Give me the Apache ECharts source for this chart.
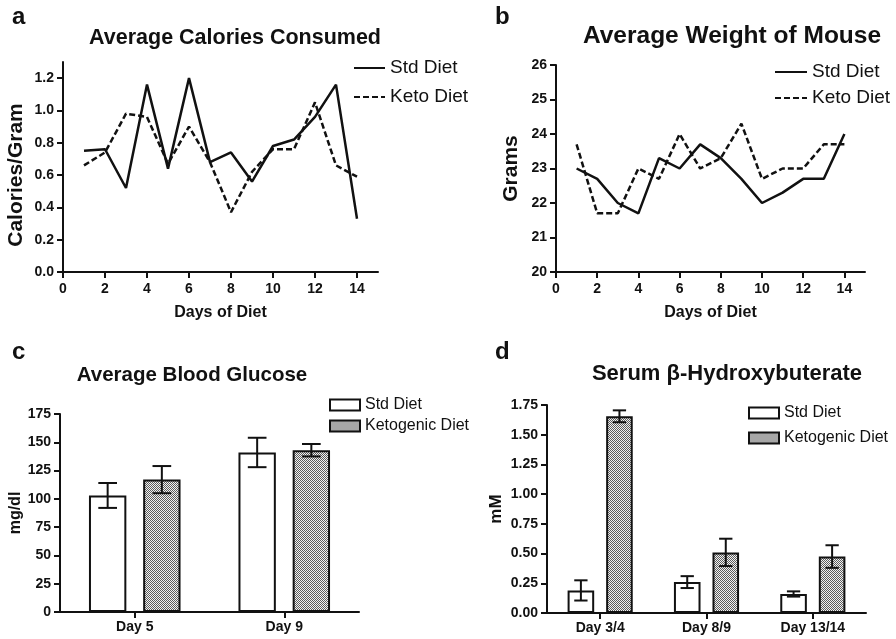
<!DOCTYPE html>
<html>
<head>
<meta charset="utf-8">
<script src="https://cdn.jsdelivr.net/npm/echarts@6/dist/echarts.min.js"></script>
<style>html,body{margin:0;padding:0;background:#fff}#c{width:896px;height:639px}</style>
</head>
<body>
<div id="c"></div>
<script>
// ---- data ----
const days = [1, 2, 3, 4, 5, 6, 7, 8, 9, 10, 11, 12, 13, 14];
const dayTicks = [0, 2, 4, 6, 8, 10, 12, 14];

const calStd  = [0.75, 0.76, 0.52, 1.16, 0.64, 1.20, 0.68, 0.74, 0.56, 0.78, 0.82, 0.96, 1.16, 0.33];
const calKeto = [0.66, 0.74, 0.98, 0.96, 0.67, 0.90, 0.68, 0.37, 0.62, 0.76, 0.76, 1.05, 0.66, 0.59];
const calTicks = [0, 0.2, 0.4, 0.6, 0.8, 1.0, 1.2];

const wtStd  = [23.0, 22.7, 22.0, 21.7, 23.3, 23.0, 23.7, 23.3, 22.7, 22.0, 22.3, 22.7, 22.7, 24.0];
const wtKeto = [23.7, 21.7, 21.7, 23.0, 22.7, 24.0, 23.0, 23.3, 24.3, 22.7, 23.0, 23.0, 23.7, 23.7];

const gluCats = ['Day 5', 'Day 9'];
const gluStd = [103, 141];
const gluStdErr = [11, 13];
const gluKeto = [117, 143];
const gluKetoErr = [12, 5.5];

const bhbCats = ['Day 3/4', 'Day 8/9', 'Day 13/14'];
const bhbStd = [0.19, 0.26, 0.16];
const bhbStdErr = [0.085, 0.05, 0.022];
const bhbKeto = [1.655, 0.51, 0.475];
const bhbKetoErr = [0.05, 0.115, 0.095];

// ---- styling ----
const FF = '"Liberation Sans", Arial, Helvetica, sans-serif';
const INK = '#111';

const pc = document.createElement('canvas');
pc.width = 2; pc.height = 2;
const pg = pc.getContext('2d');
pg.fillStyle = '#f2f2f2'; pg.fillRect(0, 0, 2, 2);
pg.fillStyle = '#5c5c5c'; pg.fillRect(0, 0, 1, 1); pg.fillRect(1, 1, 1, 1);
const checker = { image: pc, repeat: 'repeat' };

const axisLine = { show: true, onZero: false, lineStyle: { color: INK, width: 2 } };
function tick(custom) {
  const t = { show: true, length: 6, lineStyle: { color: INK, width: 2 } };
  if (custom) t.customValues = custom;
  return t;
}
function lab(extra) {
  return Object.assign({ color: INK, fontFamily: FF, fontWeight: 'bold', fontSize: 14 }, extra || {});
}
function nameStyle(size, pad) {
  const s = { color: INK, fontFamily: FF, fontWeight: 'bold', fontSize: size };
  if (pad) s.padding = pad;
  return s;
}

function errSeries(xi, yi, means, errs, off) {
  return {
    type: 'custom', xAxisIndex: xi, yAxisIndex: yi, z: 5, silent: true,
    data: means.map((m, i) => [i, m, errs[i]]),
    encode: { x: 0, y: 1 },
    renderItem: function (params, api) {
      const band = api.size([1, 0])[0];
      const c = api.value(0), m = api.value(1), e = api.value(2);
      const x = api.coord([c, m])[0] + off * band;
      const yh = api.coord([c, m + e])[1];
      const yl = api.coord([c, m - e])[1];
      const cw = band * 0.0625;
      const st = { stroke: INK, lineWidth: 2 };
      return {
        type: 'group', children: [
          { type: 'line', shape: { x1: x, y1: yh, x2: x, y2: yl }, style: st },
          { type: 'line', shape: { x1: x - cw, y1: yh, x2: x + cw, y2: yh }, style: st },
          { type: 'line', shape: { x1: x - cw, y1: yl, x2: x + cw, y2: yl }, style: st }
        ]
      };
    }
  };
}

function lineSeries(name, xi, values, dashed) {
  return {
    name: name, type: 'line', xAxisIndex: xi, yAxisIndex: xi,
    data: days.map((d, i) => [d, values[i]]),
    symbol: 'none', silent: true,
    itemStyle: { color: INK },
    lineStyle: { color: INK, width: 2.5, type: dashed ? [6, 3] : 'solid' }
  };
}

const legendText = (size, lh) => ({ color: INK, fontFamily: FF, fontSize: size, lineHeight: lh });

const option = {
  animation: false,
  backgroundColor: '#fff',
  grid: [
    { left: 63, top: 62, width: 315, height: 210 },
    { left: 556, top: 65, width: 309, height: 207 },
    { left: 60, top: 414, width: 299, height: 198 },
    { left: 547, top: 405, width: 319, height: 208 }
  ],
  xAxis: [
    { gridIndex: 0, type: 'value', min: 0, max: 15, axisLine, splitLine: { show: false },
      axisTick: tick(dayTicks), axisLabel: lab({ customValues: dayTicks, margin: 10 }),
      name: 'Days of Diet', nameLocation: 'middle', nameGap: 33, nameTextStyle: nameStyle(16) },
    { gridIndex: 1, type: 'value', min: 0, max: 15, axisLine, splitLine: { show: false },
      axisTick: tick(dayTicks), axisLabel: lab({ customValues: dayTicks, margin: 10 }),
      name: 'Days of Diet', nameLocation: 'middle', nameGap: 33, nameTextStyle: nameStyle(16) },
    { gridIndex: 2, type: 'category', data: gluCats, axisLine,
      axisTick: Object.assign(tick(), { alignWithLabel: true }), axisLabel: lab({ margin: 8 }) },
    { gridIndex: 3, type: 'category', data: bhbCats, axisLine,
      axisTick: Object.assign(tick(), { alignWithLabel: true }), axisLabel: lab({ margin: 8 }) }
  ],
  yAxis: [
    { gridIndex: 0, type: 'value', min: 0, max: 1.3, axisLine, splitLine: { show: false },
      axisTick: tick(calTicks),
      axisLabel: lab({ customValues: calTicks, margin: 9, formatter: v => v.toFixed(1) }),
      name: 'Calories/Gram', nameLocation: 'middle', nameGap: 36, nameTextStyle: nameStyle(21, [0, 16, 0, 0]) },
    { gridIndex: 1, type: 'value', min: 20, max: 26, interval: 1, axisLine, splitLine: { show: false },
      axisTick: tick(), axisLabel: lab({ margin: 9 }),
      name: 'Grams', nameLocation: 'middle', nameGap: 34, nameTextStyle: nameStyle(21) },
    { gridIndex: 2, type: 'value', min: 0, max: 175, interval: 25, axisLine, splitLine: { show: false },
      axisTick: tick(), axisLabel: lab({ margin: 9 }),
      name: 'mg/dl', nameLocation: 'middle', nameGap: 35, nameTextStyle: nameStyle(16) },
    { gridIndex: 3, type: 'value', min: 0, max: 1.75, interval: 0.25, axisLine, splitLine: { show: false },
      axisTick: tick(), axisLabel: lab({ margin: 9, formatter: v => v.toFixed(2) }),
      name: 'mM', nameLocation: 'middle', nameGap: 42, nameTextStyle: nameStyle(17) }
  ],
  legend: [
    { data: ['Std Diet', 'Keto Diet'], orient: 'vertical', left: 353, top: 58, padding: 0,
      itemWidth: 31, itemHeight: 14, itemGap: 9, selectedMode: false, textStyle: legendText(19, 20),
      itemStyle: { opacity: 0 } },
    { data: ['Std Diet', 'Keto Diet'], orient: 'vertical', left: 774, top: 62, padding: 0,
      itemWidth: 32, itemHeight: 14, itemGap: 6, selectedMode: false, textStyle: legendText(19, 20),
      itemStyle: { opacity: 0 } },
    { data: ['Std Diet#bar', 'Ketogenic Diet'], orient: 'vertical', left: 329, top: 396, padding: 0, icon: 'rect',
      itemWidth: 30, itemHeight: 11, itemGap: 3, selectedMode: false, textStyle: legendText(16, 18),
      formatter: n => n.replace('#bar', '') },
    { data: ['Std Diet#bar', 'Ketogenic Diet'], orient: 'vertical', left: 748, top: 404, padding: 0, icon: 'rect',
      itemWidth: 30, itemHeight: 11, itemGap: 7, selectedMode: false, textStyle: legendText(16, 18),
      formatter: n => n.replace('#bar', '') }
  ],
  graphic: [
    { type: 'text', x: 12, y: 17, style: { text: 'a', font: 'bold 24px ' + FF, fill: INK, verticalAlign: 'middle' } },
    { type: 'text', x: 495, y: 17, style: { text: 'b', font: 'bold 24px ' + FF, fill: INK, verticalAlign: 'middle' } },
    { type: 'text', x: 12, y: 352, style: { text: 'c', font: 'bold 24px ' + FF, fill: INK, verticalAlign: 'middle' } },
    { type: 'text', x: 495, y: 352, style: { text: 'd', font: 'bold 24px ' + FF, fill: INK, verticalAlign: 'middle' } },
    { type: 'text', x: 235, y: 38, style: { text: 'Average Calories Consumed', font: 'bold 21.5px ' + FF, fill: INK, align: 'center', verticalAlign: 'middle' } },
    { type: 'text', x: 732, y: 36, style: { text: 'Average Weight of Mouse', font: 'bold 24.5px ' + FF, fill: INK, align: 'center', verticalAlign: 'middle' } },
    { type: 'text', x: 192, y: 375, style: { text: 'Average Blood Glucose', font: 'bold 20.5px ' + FF, fill: INK, align: 'center', verticalAlign: 'middle' } },
    { type: 'text', x: 727, y: 374, style: { text: 'Serum β-Hydroxybuterate', font: 'bold 22px ' + FF, fill: INK, align: 'center', verticalAlign: 'middle' } }
  ],
  series: [
    lineSeries('Std Diet', 0, calStd, false),
    lineSeries('Keto Diet', 0, calKeto, true),
    lineSeries('Std Diet', 1, wtStd, false),
    lineSeries('Keto Diet', 1, wtKeto, true),
    { name: 'Std Diet#bar', type: 'bar', xAxisIndex: 2, yAxisIndex: 2, data: gluStd, barWidth: '25%', barGap: '45%', silent: true,
      itemStyle: { color: '#fff', borderColor: INK, borderWidth: 2 } },
    { name: 'Ketogenic Diet', type: 'bar', xAxisIndex: 2, yAxisIndex: 2, data: gluKeto, barWidth: '25%', barGap: '45%', silent: true,
      itemStyle: { color: checker, borderColor: INK, borderWidth: 2 } },
    { name: 'Std Diet#bar', type: 'bar', xAxisIndex: 3, yAxisIndex: 3, data: bhbStd, barWidth: '25%', barGap: '45%', silent: true,
      itemStyle: { color: '#fff', borderColor: INK, borderWidth: 2 } },
    { name: 'Ketogenic Diet', type: 'bar', xAxisIndex: 3, yAxisIndex: 3, data: bhbKeto, barWidth: '25%', barGap: '45%', silent: true,
      itemStyle: { color: checker, borderColor: INK, borderWidth: 2 } },
    errSeries(2, 2, gluStd, gluStdErr, -0.18125),
    errSeries(2, 2, gluKeto, gluKetoErr, 0.18125),
    errSeries(3, 3, bhbStd, bhbStdErr, -0.18125),
    errSeries(3, 3, bhbKeto, bhbKetoErr, 0.18125)
  ]
};

const chart = echarts.init(document.getElementById('c'), null, { renderer: 'canvas' });
chart.setOption(option);
</script>
</body>
</html>
